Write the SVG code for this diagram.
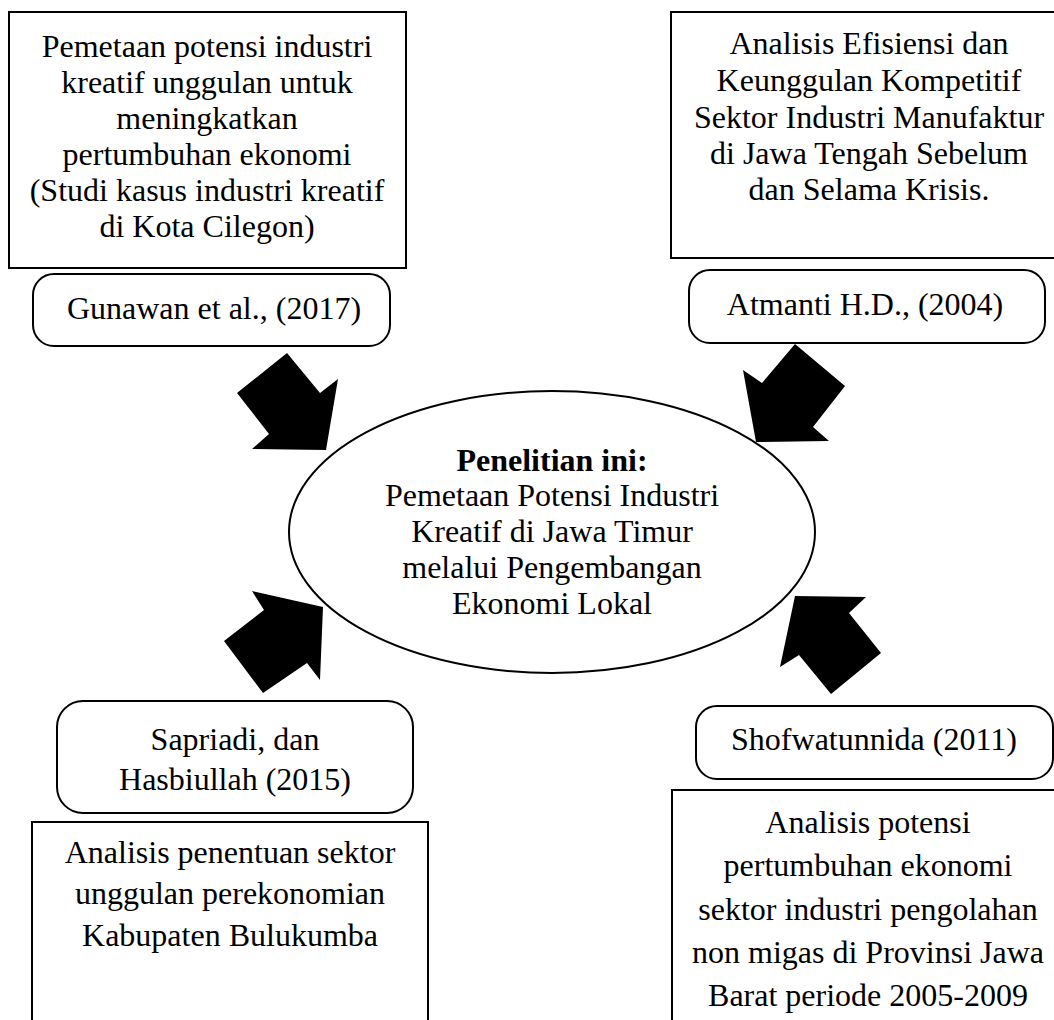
<svg xmlns="http://www.w3.org/2000/svg" width="1054" height="1020" viewBox="0 0 1054 1020">
<style>
.box{fill:#fff;stroke:#000;stroke-width:2}
.t{font-family:"Liberation Serif","Times New Roman",serif;font-size:32px;fill:#000;text-anchor:middle}
.b{font-weight:bold}
.arr{fill:#000;stroke:none}
</style>
<rect width="1054" height="1020" fill="#fff"/>
<g id="connectors">
<polygon class="arr" points="287,353 320,393 338,379 326,450 252,449 269,434 237,393"/>
<polygon class="arr" points="795,344 845,386 813,427 829,441 756,442 743,370 762,383"/>
<polygon class="arr" points="252,591 323,607 320,680 307,663 263,693 224,641 264,610"/>
<polygon class="arr" points="795,596 866,597 849,613 881,653 831,694 799,655 780,667"/>
</g>
<g id="box-cilegon">
<rect class="box" x="9" y="12" width="397" height="256"/>
<text class="t" x="207" y="57">Pemetaan potensi industri</text>
<text class="t" x="207" y="93">kreatif unggulan untuk</text>
<text class="t" x="207" y="129">meningkatkan</text>
<text class="t" x="207" y="165">pertumbuhan ekonomi</text>
<text class="t" x="207" y="201">(Studi kasus industri kreatif</text>
<text class="t" x="207" y="237">di Kota Cilegon)</text>
</g>
<g id="box-jateng">
<rect class="box" x="671" y="12" width="396" height="246"/>
<text class="t" x="869" y="54">Analisis Efisiensi dan</text>
<text class="t" x="869" y="91">Keunggulan Kompetitif</text>
<text class="t" x="869" y="128">Sektor Industri Manufaktur</text>
<text class="t" x="869" y="164">di Jawa Tengah Sebelum</text>
<text class="t" x="869" y="200">dan Selama Krisis.</text>
</g>
<g id="gunawan">
<rect class="box" x="33" y="274" width="357" height="72" rx="21" ry="21"/>
<text class="t" x="214" y="319">Gunawan et al., (2017)</text>
</g>
<g id="atmanti">
<rect class="box" x="689" y="270" width="356" height="73" rx="21" ry="21"/>
<text class="t" x="865" y="315">Atmanti H.D., (2004)</text>
</g>
<g id="center">
<ellipse class="box" cx="552" cy="532" rx="263" ry="141"/>
<text class="t b" x="552" y="471">Penelitian ini:</text>
<text class="t" x="552" y="506">Pemetaan Potensi Industri</text>
<text class="t" x="552" y="542">Kreatif di Jawa Timur</text>
<text class="t" x="552" y="578">melalui Pengembangan</text>
<text class="t" x="552" y="614">Ekonomi Lokal</text>
</g>
<g id="sapriadi">
<rect class="box" x="57" y="701" width="356" height="112" rx="26" ry="26"/>
<text class="t" x="235" y="750">Sapriadi, dan</text>
<text class="t" x="235" y="790">Hasbiullah (2015)</text>
</g>
<g id="shofwatunnida">
<rect class="box" x="696" y="706" width="357" height="73" rx="21" ry="21"/>
<text class="t" x="874" y="750">Shofwatunnida (2011)</text>
</g>
<g id="box-bulukumba">
<rect class="box" x="32" y="822" width="396" height="230"/>
<text class="t" x="230" y="863">Analisis penentuan sektor</text>
<text class="t" x="230" y="904">unggulan perekonomian</text>
<text class="t" x="230" y="946">Kabupaten Bulukumba</text>
</g>
<g id="box-jabar">
<rect class="box" x="672" y="790" width="394" height="262"/>
<text class="t" x="868" y="833">Analisis potensi</text>
<text class="t" x="868" y="876">pertumbuhan ekonomi</text>
<text class="t" x="868" y="920">sektor industri pengolahan</text>
<text class="t" x="868" y="963">non migas di Provinsi Jawa</text>
<text class="t" x="868" y="1006">Barat periode 2005-2009</text>
</g>
</svg>
